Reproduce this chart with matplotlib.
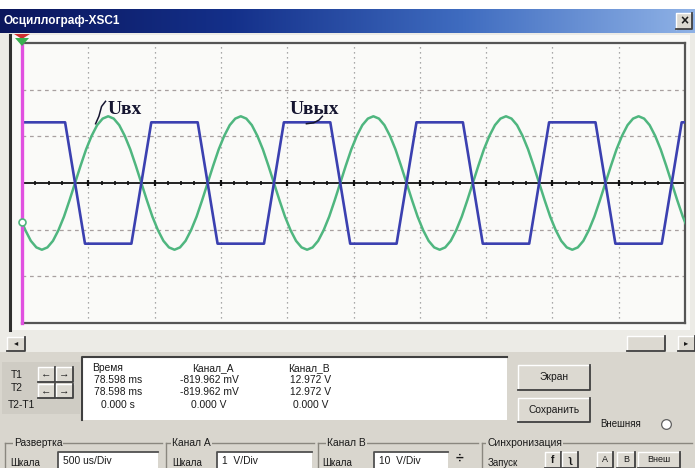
import numpy as np
import matplotlib.pyplot as plt
from matplotlib.patches import Rectangle, Polygon
from matplotlib.lines import Line2D
from matplotlib.colors import LinearSegmentedColormap

plt.rcParams['font.family'] = ['Liberation Sans', 'DejaVu Sans']

W, H = 695, 468

# ---------------- data (in screen divisions) ----------------
# channel A (input, green) sampled every 1/12 div starting at t = -0.033 div
green_start = -0.0333
green_step = 1 / 12
green_v = [
    -0.72, -1.01, -1.24, -1.38,
    -1.43, -1.38, -1.24, -1.01, -0.72, -0.37, 0.00, 0.37, 0.72, 1.01, 1.24, 1.38,
    1.43, 1.38, 1.24, 1.01, 0.72, 0.37, 0.00, -0.37, -0.72, -1.01, -1.24, -1.38,
    -1.43, -1.38, -1.24, -1.01, -0.72, -0.37, 0.00, 0.37, 0.72, 1.01, 1.24, 1.38,
    1.43, 1.38, 1.24, 1.01, 0.72, 0.37, 0.00, -0.37, -0.72, -1.01, -1.24, -1.38,
    -1.43, -1.38, -1.24, -1.01, -0.72, -0.37, 0.00, 0.37, 0.72, 1.01, 1.24, 1.38,
    1.43, 1.38, 1.24, 1.01, 0.72, 0.37, 0.00, -0.37, -0.72, -1.01, -1.24, -1.38,
    -1.43, -1.38, -1.24, -1.01, -0.72, -0.37, 0.00, 0.37, 0.72, 1.01, 1.24, 1.38,
    1.43, 1.38, 1.24, 1.01, 0.72, 0.37, 0.00, -0.37, -0.72, -1.01, -1.24, -1.38,
    -1.43, -1.38, -1.24, -1.01, -0.72, -0.37, 0.00, 0.37, 0.72, 1.01, 1.24, 1.38,
    1.43, 1.38, 1.24, 1.01, 0.72, 0.37, 0.00, -0.37, -0.72, -1.01,
]

# channel B (output, blue) - clipped, corner points
blue_t = [0.0, 0.65, 0.95, 1.65, 1.95, 2.65, 2.95, 3.65, 3.95, 4.65, 4.95,
          5.65, 5.95, 6.65, 6.95, 7.65, 7.95, 8.65, 8.95, 9.65, 9.95, 10.0]
blue_v = [1.3, 1.3, -1.3, -1.3, 1.3, 1.3, -1.3, -1.3, 1.3, 1.3, -1.3,
          -1.3, 1.3, 1.3, -1.3, -1.3, 1.3, 1.3, -1.3, -1.3, 1.3, 1.3]

cursor_t = 0.0
marker_v = -0.84

table_head = ['Время', 'Канал_А', 'Канал_В']
table_rows = [['78.598 ms', '-819.962 mV', '12.972 V'],
              ['78.598 ms', '-819.962 mV', '12.972 V'],
              ['0.000 s', '0.000 V', '0.000 V']]
scales = ['500 us/Div', '1  V/Div', '10  V/Div']

# ---------------- helpers (pixel coords, top-left origin) ----------------
fig = plt.figure(figsize=(6.95, 4.68), dpi=100)
fig.patch.set_facecolor('#d9d6ce')


def fx(x):
    return x / W


def fy(y):
    return 1 - y / H


def box(x0, y0, x1, y1, fc, ec='none', lw=1.0, z=1):
    fig.patches.append(Rectangle((fx(x0), fy(y1)), (x1 - x0) / W, (y1 - y0) / H,
                                 transform=fig.transFigure, fc=fc, ec=ec, lw=lw, zorder=z))


def line(xs, ys, color, lw=1.0, z=2):
    fig.lines.append(Line2D([fx(x) for x in xs], [fy(y) for y in ys],
                            transform=fig.transFigure, color=color, lw=lw, zorder=z))


def txt(x, y, s, size=7.4, ha='left', color='#1a1a1a', **kw):
    fig.text(fx(x), fy(y), s, size=size, ha=ha, va='center', color=color, zorder=5, **kw)


def button(x0, y0, x1, y1, label='', size=7.4, bold=False):
    box(x0, y0, x1, y1, '#dcd9d1', z=2)
    line([x0, x0, x1], [y1, y0, y0], 'white', 1.0, 3)
    line([x0, x1, x1], [y1, y1, y0], '#404040', 1.3, 3)
    if label:
        txt((x0 + x1) / 2, (y0 + y1) / 2, label, size=size, ha='center',
            fontweight='bold' if bold else 'normal')


def textfield(x0, y0, x1, y1, label):
    box(x0, y0, x1, y1, 'white', z=2)
    line([x0, x0, x1], [y1, y0, y0], '#505050', 1.3, 3)
    txt(x0 + 5, (y0 + y1) / 2 + 1, label, size=7.4)


# ---------------- window chrome ----------------
box(0, 0, 695, 9, 'white')
ax_t = fig.add_axes([0, fy(33), 1, 24 / H])
ax_t.imshow(np.linspace(0, 1, 256)[None, :], aspect='auto',
            cmap=LinearSegmentedColormap.from_list('tb', ['#0b165c', '#14308a', '#3f6cc0', '#8fb2e6']))
ax_t.axis('off')
txt(4, 21, 'Осциллограф-XSC1', size=8.5, color='white', fontweight='bold')
button(676, 13, 692, 29, '×', size=10, bold=True)

box(0, 33, 695, 352, '#ecebe6')
box(10, 35, 690, 330, '#f9f9f7')
line([10, 10], [35, 330], '#303030', 2.2)

# scrollbar
button(7, 337, 25, 351, '◂', size=6)
button(627, 336, 665, 351)
button(678, 336, 695, 351, '▸', size=6)

# ---------------- oscilloscope screen ----------------
ax = fig.add_axes([fx(22), fy(323), (685 - 22) / W, (323 - 43) / H])
ax.set_zorder(10)
ax.set_facecolor('#fafaf8')
ax.set_xlim(0, 10)
ax.set_ylim(-3, 3)
ax.set_xticks([])
ax.set_yticks([])
for s in ['top', 'right', 'bottom']:
    ax.spines[s].set_color('#555555')
    ax.spines[s].set_linewidth(1.6)
ax.spines['left'].set_visible(False)

for gx in range(1, 10):
    ax.axvline(gx, color='#8f8f8f', lw=0.9, ls=(0, (1, 3)), zorder=1)
for gy in [-2, -1, 1, 2]:
    ax.axhline(gy, color='#a8a0a0', lw=0.9, ls=(0, (3, 3)), zorder=1)
ax.axhline(0, color='#111111', lw=1.3, zorder=2)
ticks = np.arange(0.2, 10, 0.2)
ax.plot(ticks, np.zeros_like(ticks), '|', color='#111111', ms=3, mew=1.2, zorder=2)
ax.plot(np.arange(1, 10), np.zeros(9), '|', color='#111111', ms=5, mew=1.6, zorder=2)

green_t = green_start + green_step * np.arange(len(green_v))
ax.plot(green_t, green_v, color='#4fb67f', lw=1.8, zorder=3)
ax.plot(blue_t, blue_v, color='#3b40b0', lw=1.9, zorder=4)

ax.axvline(cursor_t, color='#e050e0', lw=2.4, zorder=5, clip_on=False)
ax.plot([cursor_t], [marker_v], 'o', ms=5, mfc='white', mec='#4fb67f', mew=1.2,
        zorder=6, clip_on=False)

# signal labels with hand-drawn leader strokes
serif = ['Liberation Serif', 'DejaVu Serif']
ax.text(1.29, 1.57, 'Uвх', fontsize=14, fontweight='bold', family=serif,
        color='#151530', va='center', zorder=7)
ax.plot([1.26, 1.20, 1.16, 1.11], [1.75, 1.64, 1.43, 1.27], color='#151530', lw=1.1, zorder=7)
ax.text(4.03, 1.57, 'Uвых', fontsize=14, fontweight='bold', family=serif,
        color='#151530', va='center', zorder=7)
ax.plot([4.53, 4.48, 4.40, 4.29], [1.43, 1.35, 1.29, 1.27], color='#151530', lw=1.1, zorder=7)

# trigger markers above the screen
fig.patches.append(Polygon([(fx(14), fy(34)), (fx(30), fy(34)), (fx(22), fy(39))],
                           closed=True, transform=fig.transFigure, fc='#d03030', ec='none', zorder=20))
fig.patches.append(Polygon([(fx(15), fy(38)), (fx(29), fy(38)), (fx(22), fy(46))],
                           closed=True, transform=fig.transFigure, fc='#38b050', ec='none', zorder=20))

# ---------------- lower panel ----------------
box(2, 362, 80, 414, '#cfccc4')
txt(11, 375, 'T1')
txt(11, 388, 'T2')
txt(8, 405, 'T2-T1')
button(38, 367, 55, 382, '←', size=7.5, bold=True)
button(56, 367, 73, 382, '→', size=7.5, bold=True)
button(38, 384, 55, 398, '←', size=7.5, bold=True)
button(56, 384, 73, 398, '→', size=7.5, bold=True)

box(82, 357, 507, 420, 'white')
line([82, 82, 507], [420, 357, 357], '#404040', 1.5, 3)
col_x = [118, 209, 311]
head_x = [108, 213, 309]
for hx, h in zip(head_x, table_head):
    txt(hx, 368, h, ha='center')
for r, row in enumerate(table_rows):
    for cx, v in zip(col_x, row):
        txt(cx, 380 + r * 12.3, v, ha='center')

button(518, 365, 590, 390, 'Экран')
button(518, 398, 590, 422, 'Сохранить')
txt(600, 424, 'Внешняя', size=7)
fig.lines.append(Line2D([fx(666)], [fy(424)], transform=fig.transFigure, marker='o',
                        ms=7, mfc='white', mec='#606060', mew=0.9, zorder=3))

# group boxes
for gx0, gx1, label, lx in [(5, 162, 'Развертка', 14), (166, 314, 'Канал А', 172),
                            (318, 478, 'Канал В', 327), (482, 692, 'Синхронизация', 487)]:
    line([gx0, gx1], [443, 443], '#8a877f', 1.0, 2)
    line([gx0, gx0], [443, 468], '#8a877f', 1.0, 2)
    fig.text(fx(lx), fy(443), label, size=7.4, ha='left', va='center', color='#1a1a1a',
             zorder=5, bbox=dict(fc='#d9d6ce', ec='none', pad=0.6))

txt(10, 463, 'Шкала', size=7)
textfield(58, 452, 158, 468, scales[0])
txt(172, 463, 'Шкала', size=7)
textfield(217, 452, 312, 468, scales[1])
txt(322, 463, 'Шкала', size=7)
textfield(374, 452, 448, 468, scales[2])
txt(459, 459, '÷', size=10, ha='center', fontweight='bold')
txt(488, 463, 'Запуск', size=7)
button(545, 452, 561, 468, 'f', size=7.5, bold=True)
button(562, 452, 578, 468, 'ʅ', size=7.5, bold=True)
button(597, 452, 613, 468, 'A', size=6.5)
button(617, 452, 635, 468, 'B', size=6.5)
button(638, 452, 680, 468, 'Внеш', size=6.5)

fig.savefig('out.png', dpi=100)
